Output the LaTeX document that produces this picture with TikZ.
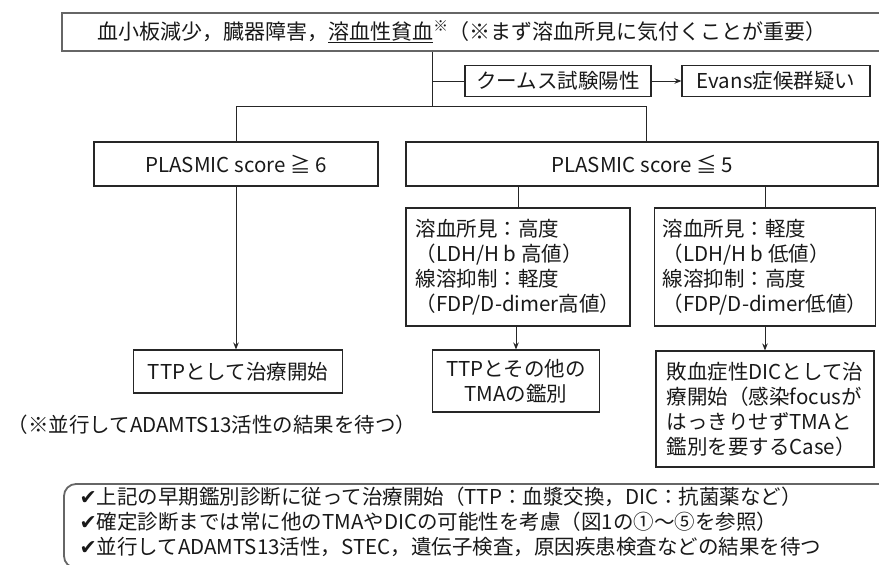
\documentclass[tikz,border=0pt]{standalone}
\usepackage{fontspec}
\setmainfont{Noto Sans CJK JP}
\newfontfamily\dejavu{DejaVu Sans}
\usetikzlibrary{arrows.meta}
\begin{document}
\begin{tikzpicture}[x=1pt,y=-1pt,
  every node/.style={font=\fontsize{20.5}{25}\selectfont, text=black!90},
  box/.style={draw=black!85, line width=1.1pt, inner sep=0pt},
  frame/.style={draw=black!60, line width=1.8pt},
  conn/.style={draw=black!85, line width=1pt},
  arr/.style={conn, -{Stealth[length=7pt,width=5.5pt]}},
]
\useasboundingbox (0,0) rectangle (879,565);
\clip (0,0) rectangle (879,565);

% top frame and its text
\node[frame, minimum width=840pt, minimum height=38pt, inner sep=0pt] (top) at (482,32) {};
\node[font=\fontsize{21}{25}\selectfont] (toptext) at (462,32) {血小板減少，臓器障害，\underline{溶血性貧血}\textsuperscript{※}（※まず溶血所見に気付くことが重要）};

\node[box, minimum width=186pt, minimum height=31pt] (coombs) at (558,81) {クームス試験陽性};
\node[box, minimum width=188pt, minimum height=31pt] (evans) at (776,81) {Evans症候群疑い};

\coordinate (j1) at (432,106);
\coordinate (jk) at (432,81);
\coordinate (jL) at (236,106);
\coordinate (jR) at (646,106);

\node[box, minimum width=284pt, minimum height=44pt] (p6) at (236,164) {PLASMIC score ≧ 6};
\node[box, minimum width=472pt, minimum height=44pt] (p5) at (642,164) {PLASMIC score ≦ 5};

\node[box, minimum width=224pt, minimum height=118pt, align=left] (hL) at (518,267)
  {溶血所見：高度\\（LDH/H b 高値）\\線溶抑制：軽度\\（FDP/D-dimer高値）};
\node[box, minimum width=221pt, minimum height=118pt, align=left] (hR) at (765,267)
  {溶血所見：軽度\\（LDH/H b 低値）\\線溶抑制：高度\\（FDP/D-dimer低値）};

\node[box, minimum width=209pt, minimum height=43pt] (ttp) at (238,371.5) {TTPとして治療開始};
\node[box, minimum width=167pt, minimum height=62pt, align=center] (tL) at (516,381)
  {TTPとその他の\\TMAの鑑別};
\node[box, minimum width=218pt, minimum height=116pt, align=left] (dic) at (765,409)
  {敗血症性DICとして治\\療開始（感染focusが\\はっきりせずTMAと\\鑑別を要するCase）};

\node (note) at (212,425) {（※並行してADAMTS13活性の結果を待つ）};

% bottom frame
\draw[frame, rounded corners=12pt] (64,484) rectangle (905,568);
\node[anchor=west, align=left, font=\fontsize{20.5}{25}\selectfont] (notes) at (76,522)
  {{\dejavu ✔}上記の早期鑑別診断に従って治療開始（TTP：血漿交換，DIC：抗菌薬など）\\
   {\dejavu ✔}確定診断までは常に他のTMAやDICの可能性を考慮（図1の①～⑤を参照）\\
   {\dejavu ✔}並行してADAMTS13活性，STEC，遺伝子検査，原因疾患検査などの結果を待つ};

% connectors
\draw[conn] (top.south -| j1) -- (j1);
\draw[conn] (jk) -- (coombs.west);
\draw[arr] (coombs.east) -- (evans.west);
\draw[conn] (jL) -- (jR);
\draw[conn] (jL) -- (p6.north);
\draw[conn] (jR) -- (jR |- p5.north);
\draw[conn] (p5.south -| hL.north) -- (hL.north);
\draw[conn] (p5.south -| hR.north) -- (hR.north);
\draw[arr] (p6.south) -- (p6.south |- ttp.north);
\draw[arr] (hL.south -| tL.north) -- (tL.north);
\draw[arr] (hR.south -| dic.north) -- (dic.north);
\end{tikzpicture}
\end{document}
